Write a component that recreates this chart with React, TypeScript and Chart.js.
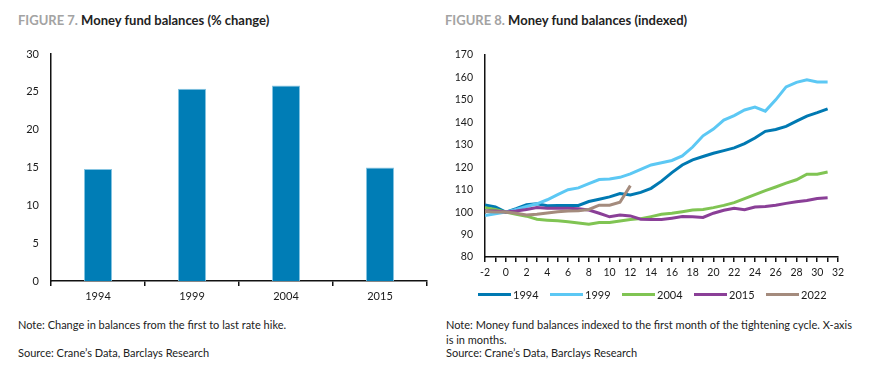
import React, { useEffect, useRef } from "react";
import { Chart, registerables } from "chart.js";
Chart.register(...registerables);

// ---- Figure 7 data ----
const barCategories = ["1994", "1999", "2004", "2015"];
const barValues = [14.8, 25.4, 25.85, 15.0];

// ---- Figure 8 data ----
const months = [-2, -1, 0, 1, 2, 3, 4, 5, 6, 7, 8, 9, 10, 11, 12, 13, 14, 15, 16, 17, 18, 19, 20, 21, 22, 23, 24, 25, 26, 27, 28, 29, 30, 31];
const s1994 = [103.2, 102.3, 100, 101.5, 103.3, 103.7, 102.8, 103, 103, 103, 104.7, 105.7, 106.8, 108.3, 107.6, 108.8, 110.6, 113.8, 117.6, 121, 123.3, 124.8, 126.2, 127.4, 128.6, 130.5, 133, 136, 136.8, 138.2, 140.5, 142.8, 144.3, 146];
const s1999 = [98.5, 99.3, 100, 101.2, 102.5, 103.7, 105.5, 107.8, 110, 110.8, 112.7, 114.5, 114.8, 115.5, 117, 119, 121, 122, 123, 125, 129, 134, 137, 141, 143, 145.5, 146.8, 145, 150, 155.8, 157.8, 159, 158, 158];
const s2004 = [102, 101.2, 100, 99, 98.2, 96.8, 96.4, 96.1, 95.7, 95.2, 94.6, 95.4, 95.4, 96, 96.7, 97.1, 98, 99, 99.5, 100.2, 100.9, 101.2, 102, 103, 104.2, 106, 107.8, 109.6, 111.2, 112.9, 114.4, 116.9, 116.9, 117.9];
const s2015 = [100.5, 100.5, 100, 100.5, 101.2, 102, 101.7, 101.7, 101.7, 101.5, 100.9, 99.5, 97.9, 98.7, 98.3, 96.8, 96.7, 96.7, 97.3, 98, 97.9, 97.6, 99.5, 100.8, 101.7, 101.1, 102.3, 102.5, 103.1, 103.9, 104.6, 105.2, 106.1, 106.4];
const s2022 = [100.3, 100, 100, 99.5, 98.7, 99, 99.6, 100.2, 100.5, 100.6, 101.2, 103.1, 103.1, 104.4, 111.8];
const seriesNames = ["1994", "1999", "2004", "2015", "2022"];
const seriesValues = [s1994, s1999, s2004, s2015, s2022];
const seriesColors = ["#0079B2", "#5CC8F4", "#80C453", "#8A3F97", "#A48B7D"];

const FONT = "Lato";
const TEXT = "#1a1a1a";
const AXIS = "#111111";

function BarChart() {
  const ref = useRef<HTMLCanvasElement>(null);
  useEffect(() => {
    if (!ref.current) return;
    const chart = new Chart(ref.current, {
      type: "bar",
      data: {
        labels: barCategories,
        datasets: [
          {
            data: barValues,
            backgroundColor: "#007DB6",
            borderColor: "#86C5E2",
            borderWidth: 1,
            barPercentage: 0.3,
            categoryPercentage: 1,
          },
        ],
      },
      options: {
        responsive: false,
        animation: false,
        layout: { padding: { top: 54, right: 13, left: 0, bottom: 0 } },
        plugins: { legend: { display: false }, tooltip: { enabled: false }, title: { display: false } },
        scales: {
          y: {
            min: 0,
            max: 30,
            ticks: { stepSize: 5, padding: 12, color: TEXT, font: { family: FONT, size: 11 } },
            grid: { display: false, drawTicks: false },
            border: { display: true, color: AXIS, width: 1.5 },
            afterFit: (s: any) => { s.width = 51; },
          },
          x: {
            grid: { display: true, drawOnChartArea: false, drawTicks: true, tickLength: 5, color: AXIS, lineWidth: 1.5, offset: true },
            border: { display: true, color: AXIS, width: 1.5 },
            ticks: { padding: 4, color: TEXT, font: { family: FONT, size: 11 } },
            afterFit: (s: any) => { s.height = 19; },
          },
        },
      },
    });
    return () => chart.destroy();
  }, []);
  return <canvas ref={ref} width={440} height={300} style={{ position: "absolute", left: 0, top: 0 }} />;
}

function LineChart() {
  const ref = useRef<HTMLCanvasElement>(null);
  useEffect(() => {
    if (!ref.current) return;
    const chart = new Chart(ref.current, {
      type: "line",
      data: {
        datasets: seriesNames.map((name, i) => ({
          label: name,
          data: seriesValues[i].map((v, j) => ({ x: months[j], y: v })),
          borderColor: seriesColors[i],
          backgroundColor: seriesColors[i],
          borderWidth: 3,
          pointRadius: 0,
          tension: 0,
          fill: false,
          order: seriesNames.length - i,
        })),
      },
      options: {
        responsive: false,
        animation: false,
        layout: { padding: { top: 55, right: 48, left: 0, bottom: 0 } },
        plugins: { legend: { display: false }, tooltip: { enabled: false }, title: { display: false } },
        scales: {
          y: {
            min: 80,
            max: 170,
            ticks: { stepSize: 10, padding: 12, color: TEXT, font: { family: FONT, size: 10.5 } },
            grid: { display: false, drawTicks: false },
            border: { display: true, color: AXIS, width: 1.5 },
            afterFit: (s: any) => { s.width = 45; },
          },
          x: {
            type: "linear",
            min: -2,
            max: 32,
            ticks: {
              stepSize: 1,
              autoSkip: false,
              maxRotation: 0,
              padding: 4,
              color: TEXT,
              font: { family: FONT, size: 10.5 },
              callback: (v: any) => (Number(v) % 2 === 0 ? String(v) : ""),
            },
            grid: { display: true, drawOnChartArea: false, drawTicks: true, tickLength: 5, color: AXIS, lineWidth: 1.5 },
            border: { display: true, color: AXIS, width: 1.5 },
            afterFit: (s: any) => { s.height = 33; },
          },
        },
      },
    });
    return () => chart.destroy();
  }, []);
  return <canvas ref={ref} width={446} height={290} style={{ position: "absolute", left: 440, top: 0 }} />;
}

export default function App() {
  const titleStyle: React.CSSProperties = {
    position: "absolute",
    top: 12,
    fontFamily: FONT,
    fontWeight: 700,
    fontSize: 13,
    lineHeight: "17px",
    color: "#222",
    whiteSpace: "nowrap",
  };
  const noteStyle: React.CSSProperties = {
    position: "absolute",
    fontFamily: FONT,
    fontSize: 11,
    lineHeight: "15px",
    color: "#222",
    whiteSpace: "nowrap",
  };
  return (
    <div style={{ position: "fixed", left: 0, top: 0, width: 886, height: 371, background: "#fff", overflow: "hidden" }}>
      <div style={{ ...titleStyle, left: 18 }}>
        <span style={{ color: "#A3A3A3" }}>FIGURE 7.</span> Money fund balances (% change)
      </div>
      <div style={{ ...titleStyle, left: 445 }}>
        <span style={{ color: "#A3A3A3" }}>FIGURE 8.</span> Money fund balances (indexed)
      </div>
      <BarChart />
      <LineChart />
      <div style={{ position: "absolute", left: 0, top: 287, width: 886, height: 15 }}>
        {seriesNames.map((name, i) => (
          <div
            key={name}
            style={{
              position: "absolute",
              left: 478 + i * 72,
              top: 0,
              display: "flex",
              alignItems: "center",
              height: 15,
              fontFamily: FONT,
              fontSize: 11,
              color: TEXT,
            }}
          >
            <span style={{ display: "inline-block", width: 33, height: 3, background: seriesColors[i], marginRight: 2 }} />
            {name}
          </div>
        ))}
      </div>
      <div style={{ ...noteStyle, left: 18, top: 317 }}>Note: Change in balances from the first to last rate hike.</div>
      <div style={{ ...noteStyle, left: 18, top: 345 }}>Source: Crane’s Data, Barclays Research</div>
      <div style={{ ...noteStyle, left: 446, top: 317 }}>
        Note: Money fund balances indexed to the first month of the tightening cycle. X-axis
        <br />
        is in months.
      </div>
      <div style={{ ...noteStyle, left: 446, top: 345 }}>Source: Crane’s Data, Barclays Research</div>
    </div>
  );
}
